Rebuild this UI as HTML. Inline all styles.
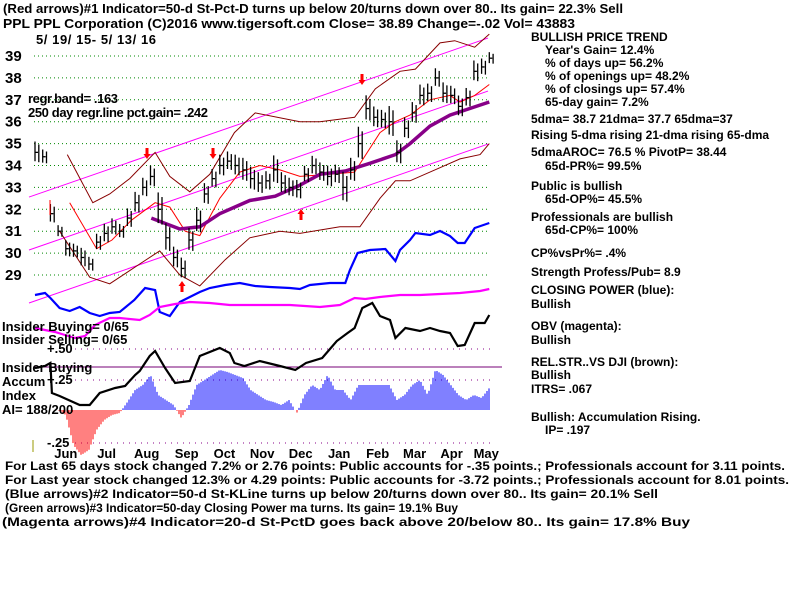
<!DOCTYPE html>
<html><head><meta charset="utf-8"><style>
body{margin:0;background:#fff}
svg{display:block;font-family:"Liberation Sans",Arial,sans-serif;font-weight:bold}
</style></head><body>
<svg id="chart" width="800" height="600" viewBox="0 0 800 600">
<g id="grid"></g>
<g id="plot"></g>
<g font-size="13" fill="#000">
<text x="3" y="13" textLength="620" lengthAdjust="spacingAndGlyphs">(Red arrows)#1 Indicator=50-d St-Pct-D turns up below 20/turns down over 80.. Its gain= 22.3% Sell</text>
<text x="3" y="28" textLength="572" lengthAdjust="spacingAndGlyphs">PPL   PPL Corporation  (C)2016 www.tigersoft.com    Close=  38.89  Change=-.02 Vol= 43883</text>
<text x="36" y="44" textLength="120">5/ 19/ 15- 5/ 13/ 16</text>
<text x="28" y="103" textLength="90">regr.band= .163</text>
<text x="28" y="117" textLength="180">250 day regr.line pct.gain= .242</text>
</g>
<g font-size="13">
<text x="2" y="331">Insider Buying= 0/65</text>
<text x="2" y="344">Insider Selling= 0/65</text>
<text x="47" y="353">+.50</text>
<text x="2" y="372">Insider Buying</text>
<text x="2" y="386">Accum</text>
<text x="47" y="384">+.25</text>
<text x="2" y="400">Index</text>
<text x="2" y="414">AI= 188/200</text>
<text x="47" y="447">-.25</text>
</g>
<g font-size="12">
<text x="531" y="41">BULLISH PRICE TREND</text>
<text x="545" y="54">Year's Gain= 12.4%</text>
<text x="545" y="67">% of days up= 56.2%</text>
<text x="545" y="80">% of openings up= 48.2%</text>
<text x="545" y="93">% of closings up= 57.4%</text>
<text x="545" y="106">65-day gain= 7.2%</text>
<text x="531" y="123">5dma= 38.7 21dma= 37.7 65dma=37</text>
<text x="531" y="139">Rising 5-dma rising 21-dma rising 65-dma</text>
<text x="531" y="156">5dmaAROC= 76.5 %  PivotP= 38.44</text>
<text x="545" y="170">65d-PR%= 99.5%</text>
<text x="531" y="190">Public is bullish</text>
<text x="545" y="203">65d-OP%= 45.5%</text>
<text x="531" y="221">Professionals are bullish</text>
<text x="545" y="234">65d-CP%= 100%</text>
<text x="531" y="257">CP%vsPr%=  .4%</text>
<text x="531" y="276">Strength Profess/Pub= 8.9</text>
<text x="531" y="294">CLOSING POWER (blue):</text>
<text x="531" y="308">Bullish</text>
<text x="531" y="330">OBV (magenta):</text>
<text x="531" y="344">Bullish</text>
<text x="531" y="366">REL.STR..VS DJI (brown):</text>
<text x="531" y="379">Bullish</text>
<text x="531" y="393">ITRS= .067</text>
<text x="531" y="421">Bullish: Accumulation Rising.</text>
<text x="545" y="434">IP=  .197</text>
</g>
<g font-size="12">
<text x="5" y="470" textLength="780" lengthAdjust="spacingAndGlyphs">For Last 65 days stock changed  7.2% or  2.76 points:  Public accounts for -.35 points.;  Professionals account for  3.11 points.</text>
<text x="5" y="484" textLength="784" lengthAdjust="spacingAndGlyphs">For Last year stock changed  12.3% or  4.29 points:  Public accounts for -3.72 points.;  Professionals account for  8.01 points.</text>
<text x="5" y="498" textLength="653" lengthAdjust="spacingAndGlyphs">(Blue arrows)#2 Indicator=50-d St-KLine turns up below 20/turns down over 80.. Its gain= 20.1% Sell</text>
<text x="5" y="512" textLength="453" lengthAdjust="spacingAndGlyphs">(Green arrows)#3 Indicator=50-day Closing Power ma turns. Its gain= 19.1% Buy</text>
<text x="2" y="526" textLength="688" lengthAdjust="spacingAndGlyphs">(Magenta arrows)#4 Indicator=20-d St-PctD goes back above 20/below 80.. Its gain= 17.8% Buy</text>
</g>
</svg>
<script>
const priceTicks=[29,30,31,32,33,34,35,36,37,38,39];
const months=["Jun","Jul","Aug","Sep","Oct","Nov","Dec","Jan","Feb","Mar","Apr","May"];
const monthIdx=[4,9.3,14.5,19.7,24.6,29.5,34.5,39.5,44.5,49.3,54.1,58.6];
const closes=[34.6,34.4,31.8,31.0,30.2,30.1,29.8,29.5,30.5,30.9,31.2,31.0,31.6,32.3,33.0,33.5,32.0,30.7,29.8,29.3,30.6,31.5,32.7,33.4,34.0,34.2,34.0,33.8,33.4,33.2,33.3,33.8,33.2,33.0,32.9,33.6,34.0,33.7,33.5,33.6,33.0,33.8,35.0,36.6,36.2,36.1,36.0,34.6,35.7,36.4,37.2,37.3,38.0,37.3,37.2,36.7,37.1,38.3,38.5,38.9];
const ranges=[0.9,0.6,0.8,0.5,0.7,0.6,0.8,0.6,0.7,0.8,0.7,0.6,0.8,0.9,0.8,0.9,1.4,1.2,0.9,0.9,1.0,1.1,0.9,0.8,0.9,0.8,0.9,1.0,1.0,0.9,0.8,1.2,0.9,0.8,0.8,0.7,0.8,0.8,0.9,0.8,1.3,1.0,1.4,1.1,0.9,0.8,1.3,1.0,0.9,0.9,0.9,0.8,0.8,0.9,0.8,0.9,0.8,0.9,0.7,0.5];
const regStart=30.14, regEnd=37.4, regBand=2.42;
const ma21=[[4.5,32.3],[8,30.2],[10,30.6],[12.5,31.5],[15.6,32.3],[17.5,32.1],[19.5,31.0],[21.4,30.8],[24,32.5],[26.6,33.7],[29.2,34.0],[31.8,33.8],[34.4,33.5],[38.3,33.6],[41.5,33.7],[44.8,35.5],[46.8,36.0],[48.7,36.3],[51.3,37.0],[53.9,37.2],[55.2,36.9],[57.1,37.2],[59,37.7]];
const ma65=[[15.1,31.6],[18.8,31.1],[21.4,31.2],[24,31.8],[27.9,32.4],[31.2,32.6],[34.4,33.1],[37,33.6],[40.3,33.75],[43.5,34.1],[46.8,34.5],[48.7,35.0],[51.3,35.8],[53.9,36.3],[59,36.9]];
const bandUp=[[4.2,34.5],[7.5,32.3],[9.7,32.7],[12.3,33.4],[15.6,34.6],[17.5,33.5],[20.1,32.8],[22.7,33.6],[25.9,35.5],[28.6,36.4],[34.4,36.0],[37,36.0],[41.5,36.2],[44.2,37.5],[47.4,38.3],[49.4,38.4],[52.6,39.6],[54.5,39.7],[57.1,39.4],[59,40.0]];
const bandLo=[[3.2,31.0],[7.1,28.9],[9.7,28.6],[13.6,29.5],[16.2,30.1],[18.8,29.0],[21.4,28.5],[24.7,29.7],[27.9,30.7],[31.8,31.0],[34.4,30.9],[39.6,31.2],[42.2,31.2],[44.8,32.5],[46.8,33.3],[48.7,33.3],[52.6,33.9],[55.2,34.3],[57.8,34.5],[59,35.0]];
const cpIdx=[0,1.3,2,3.2,4.5,5.8,7.1,8.4,9.7,11,12.9,14.3,15.6,16.2,17.5,18.8,20.1,21.4,22.7,24.7,26.6,28.6,30.5,33.1,34.4,35.7,38.3,40.3,40.9,41.9,43.5,45.5,46.8,47.4,48.7,49.4,51.3,52.6,53.9,54.9,55.8,57.1,59];
const cpVals=[25,27,22,12,9,13,7,4,7,8,20,32,30,8,4,18,23,28,32,35,37,34,33,32,31,35,37,37,50,67,70,71,59,70,80,87,85,89,84,77,77,92,97];
const obvIdx=[0,1.3,2.6,3.9,5.2,6.5,7.8,9.7,11,13.6,14.9,16.2,18.2,20.1,22.7,25.3,29.2,33.1,37,39.6,41.5,42.9,44.8,47.4,50,52.6,55.2,57.8,59];
const obvVals=[-8,-10,-12,-15,-18,-16,-5,2,2,0,5,13,16,18,17,15,15,15,13,15,22,21,23,25,25,26,27,29,31];
const rsIdx=[0,1.3,2,2.2,3.2,5.8,7.1,8.4,10.4,11.7,13,13.6,14.9,15.6,16.9,18.2,20.1,21.4,24,25.3,25.9,27.2,29.2,31.8,33.8,35.2,37.3,39.2,40.6,41.5,42.5,43.8,44.8,46.1,46.8,48.1,50,51.3,52.6,53.9,54.9,55.8,57.1,58.4,59];
const rsVals=[0,2,5,-25,-28,-37,-37,-25,-20,-18,-7,-3,12,17,0,-15,-13,12,20,15,5,2,7,2,-2,5,10,27,35,40,60,65,52,48,30,40,37,40,37,35,22,23,45,45,53];
const aiVals=[0,0,0,0,-5,-35,-45,-40,-20,-10,-5,-3,8,20,25,35,15,10,5,-8,5,25,30,35,40,38,35,32,20,15,10,8,5,10,-3,15,25,20,35,20,20,10,25,25,25,25,25,10,15,25,30,15,40,35,25,15,10,15,12,22];

const NS="http://www.w3.org/2000/svg";
const X0=35,DX=7.7;
function xs(i){return X0+i*DX;}
function yp(p){return 56+(39-p)*21.9;}
function ycp(v){return 320-v;}
function yobv(v){return 320-v;}
function yrs(v){return 368-v;}
function yai(v){return 410-v;}
const grid=document.getElementById('grid'), plot=document.getElementById('plot');
function el(tag,attrs,parent){const e=document.createElementNS(NS,tag);for(const k in attrs)e.setAttribute(k,attrs[k]);(parent||plot).appendChild(e);return e;}
function poly(pts,stroke,w,extra){const e=el('polyline',Object.assign({points:pts.map(p=>p[0].toFixed(1)+','+p[1].toFixed(1)).join(' '),fill:'none',stroke:stroke,'stroke-width':w},extra||{}));return e;}

priceTicks.forEach(t=>{
  const l=el('line',{x1:34,x2:490,y1:yp(t),y2:yp(t),stroke:'#080','stroke-dasharray':'1,3'},grid);
  
  
  const tx=el('text',{x:5,y:yp(t)+5,'font-size':15},grid);tx.textContent=t;
  
  
});
[349,380,443].forEach(y=>{el('line',{x1:75,x2:490,y1:y,y2:y,stroke:'#808','stroke-dasharray':'1,5'},grid);});
const zl=el('line',{x1:34,x2:502,y1:367,y2:367,stroke:'#707'},grid);


el('line',{x1:33,x2:33,y1:440,y2:452,stroke:'#990'},grid);
months.forEach((m,k)=>{
  const t=el('text',{x:xs(monthIdx[k]),y:458,'font-size':13,'text-anchor':'middle'},grid);t.textContent=m;
  
  
});

// AI histogram (striped bars)
for(let x=Math.round(xs(0));x<=xs(59);x+=2){
  const f=(x-X0)/DX,i=Math.max(0,Math.floor(f)),j=Math.min(i+1,59),t=f-i;
  const v=aiVals[i]*(1-t)+aiVals[j]*t;
  if(Math.abs(v)<0.5)continue;
  const y0=Math.min(yai(0),yai(v)),h=Math.abs(v);
  const r=el('rect',{x:x-0.5,y:y0,width:1,height:h,fill:v>0?'#0000ff':'#ff0000'});
  
  
}

// regression channel
[-1,0,1].forEach(k=>{
  const l=el('line',{x1:29,x2:488,y1:yp(regStart+k*regBand),y2:yp(regEnd+k*regBand),stroke:'#f0f','stroke-width':1});
  
  
});
let b=poly(bandUp.map(d=>[xs(d[0]),yp(d[1])]),'#800',1);


b=poly(bandLo.map(d=>[xs(d[0]),yp(d[1])]),'#800',1);


b=poly(ma21.map(d=>[xs(d[0]),yp(d[1])]),'#f00',1);


b=poly(ma65.map(d=>[xs(d[0]),yp(d[1])]),'#808',3.5);



// price bars
closes.forEach((c,i)=>{
  const x=xs(i),r=ranges[i];
  const g=el('g',{});
  
  
  el('line',{x1:x,x2:x,y1:yp(c+r*0.55),y2:yp(c-r*0.45),stroke:'#000','stroke-width':1.3},g);
  el('line',{x1:x,x2:x+3,y1:yp(c),y2:yp(c),stroke:'#000','stroke-width':1.3},g);
  el('line',{x1:x+3.8,x2:x+3.8,y1:yp(c+r*0.4),y2:yp(c-r*0.5),stroke:'#000','stroke-width':1.3},g);
});

// arrows
function arrow(x,y,down){
  const g=el('g',{fill:'#f00'});
  
  
  if(down){el('rect',{x:x-1.5,y:y-8,width:3,height:6},g);el('polygon',{points:`${x-3.5},${y-2} ${x+3.5},${y-2} ${x},${y+3}`},g);}
  else{el('rect',{x:x-1.5,y:y+2,width:3,height:6},g);el('polygon',{points:`${x-3.5},${y+2} ${x+3.5},${y+2} ${x},${y-3}`},g);}
}
arrow(147,156,true);arrow(213,156,true);arrow(362,82,true);arrow(182,284,false);arrow(301,212,false);
el('line',{x1:50,x2:50,y1:200,y2:215,stroke:'#f00'});

// CP blue
b=poly(cpIdx.map((d,k)=>[xs(d),ycp(cpVals[k])]),'#00f',2.2);


// OBV magenta
b=poly(obvIdx.map((d,k)=>[xs(d),yobv(obvVals[k])]),'#f0f',2.2);


// RS black
b=poly(rsIdx.map((d,k)=>[xs(d),yrs(rsVals[k])]),'#000',2.2);


</script>
</body></html>
